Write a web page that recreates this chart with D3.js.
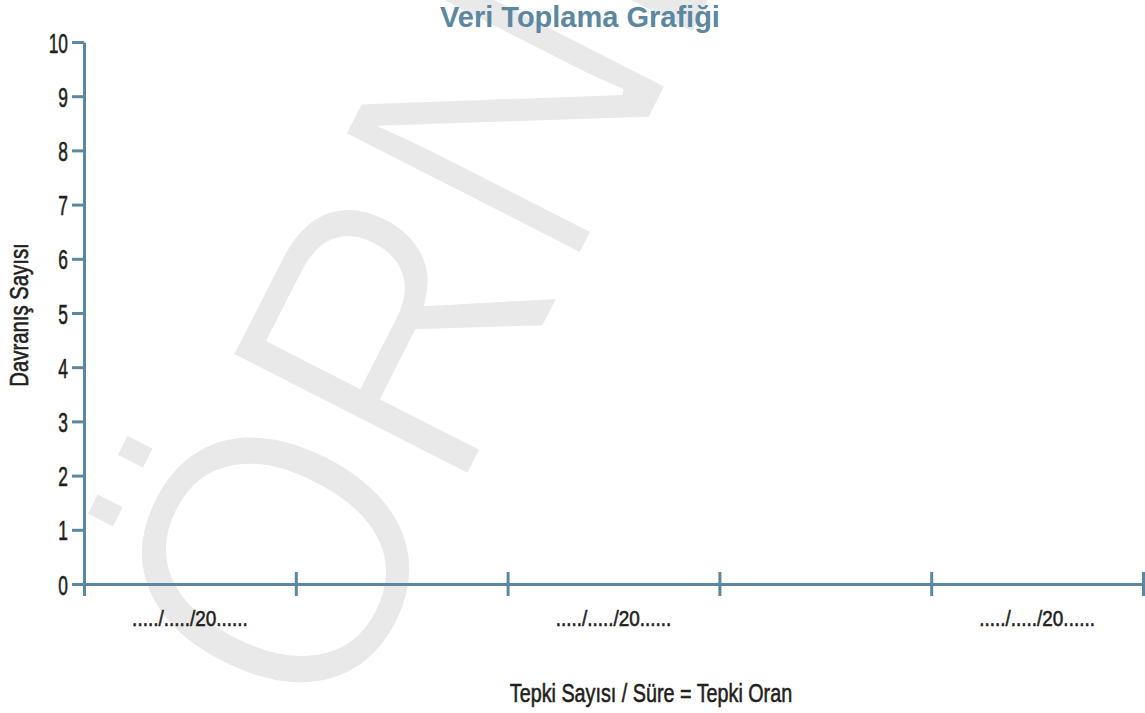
<!DOCTYPE html>
<html>
<head>
<meta charset="utf-8">
<script src="https://cdn.jsdelivr.net/npm/d3@7"></script>
<style>
  body { margin: 0; background: #fff; }
  .cond { font-family: "Liberation Sans", Arial, sans-serif; fill: #231f20; stroke: #231f20; stroke-width: 0.6; }
</style>
</head>
<body>
<div id="chart"></div>
<script>
var width = 1145,
    height = 713;

// chart content
var title = "Veri Toplama Grafiği";
var yLabel = "Davranış Sayısı";
var xLabel = "Tepki Sayısı / Süre = Tepki Oran";
var watermark = "ÖRNEK";
var yTicks = [0, 1, 2, 3, 4, 5, 6, 7, 8, 9, 10];
var periods = ["1", "2", "3", "4", "5"];
var dateLabels = ["...../...../20......", "", "...../...../20......", "", "...../...../20......"];

var axisColor = "#5b87a1";

var svg = d3.select("#chart").append("svg")
    .attr("width", width)
    .attr("height", height);

// background watermark (white stroke thins the letters a bit)
svg.append("text")
    .attr("transform", "translate(335,740) rotate(-63) scale(0.88,1)")
    .attr("font-family", "Liberation Sans, Arial, sans-serif")
    .attr("font-size", 390)
    .attr("fill", "#e9e9e9")
    .attr("stroke", "#fff")
    .attr("stroke-width", 7)
    .text(watermark);

var y = d3.scaleLinear()
    .domain([0, 10])
    .range([584, 42]);

var xEdge = d3.scaleLinear()
    .domain([0, periods.length])
    .range([84, 1143]);

var xBand = d3.scaleBand()
    .domain(periods)
    .range([84, 1143]);

// y axis
var tickSx = 0.62;
var yAxis = svg.append("g")
    .attr("transform", "translate(84,0)")
    .call(d3.axisLeft(y).tickValues(yTicks).tickSize(12).tickSizeOuter(0).tickPadding(4));

yAxis.selectAll("path, line")
    .attr("stroke", axisColor)
    .attr("stroke-width", 3);
yAxis.selectAll("text")
    .attr("class", "cond")
    .attr("font-size", 28)
    .attr("x", -16 / tickSx)
    .attr("dy", "0.36em")
    .attr("transform", "scale(" + tickSx + ",1)");

// x axis, ticks cross the line
var xAxis = svg.append("g")
    .attr("transform", "translate(0,584)")
    .call(d3.axisBottom(xEdge).tickValues(d3.range(0, periods.length + 1)).tickSize(12).tickSizeOuter(0).tickFormat(""));

xAxis.selectAll("path, line")
    .attr("stroke", axisColor)
    .attr("stroke-width", 3);
xAxis.selectAll("line")
    .attr("y1", -12)
    .attr("y2", 12);

// date placeholders
svg.append("g").selectAll("text")
    .data(periods)
    .enter().append("text")
    .attr("class", "cond")
    .attr("transform", function (d) {
        return "translate(" + (xBand(d) + xBand.bandwidth() / 2) + ",626) scale(0.86,1)";
    })
    .attr("text-anchor", "middle")
    .attr("font-size", 22)
    .text(function (d, i) { return dateLabels[i]; });

// titles
svg.append("text")
    .attr("x", 580)
    .attr("y", 27)
    .attr("text-anchor", "middle")
    .attr("font-family", "Liberation Sans, Arial, sans-serif")
    .attr("font-weight", "bold")
    .attr("font-size", 29)
    .attr("fill", axisColor)
    .text(title);

svg.append("text")
    .attr("class", "cond")
    .attr("transform", "translate(651,702) scale(0.746,1)")
    .attr("text-anchor", "middle")
    .attr("font-size", 26.5)
    .text(xLabel);

svg.append("text")
    .attr("class", "cond")
    .attr("transform", "translate(28,315) rotate(-90) scale(0.767,1)")
    .attr("text-anchor", "middle")
    .attr("font-size", 26.5)
    .text(yLabel);
</script>
</body>
</html>
